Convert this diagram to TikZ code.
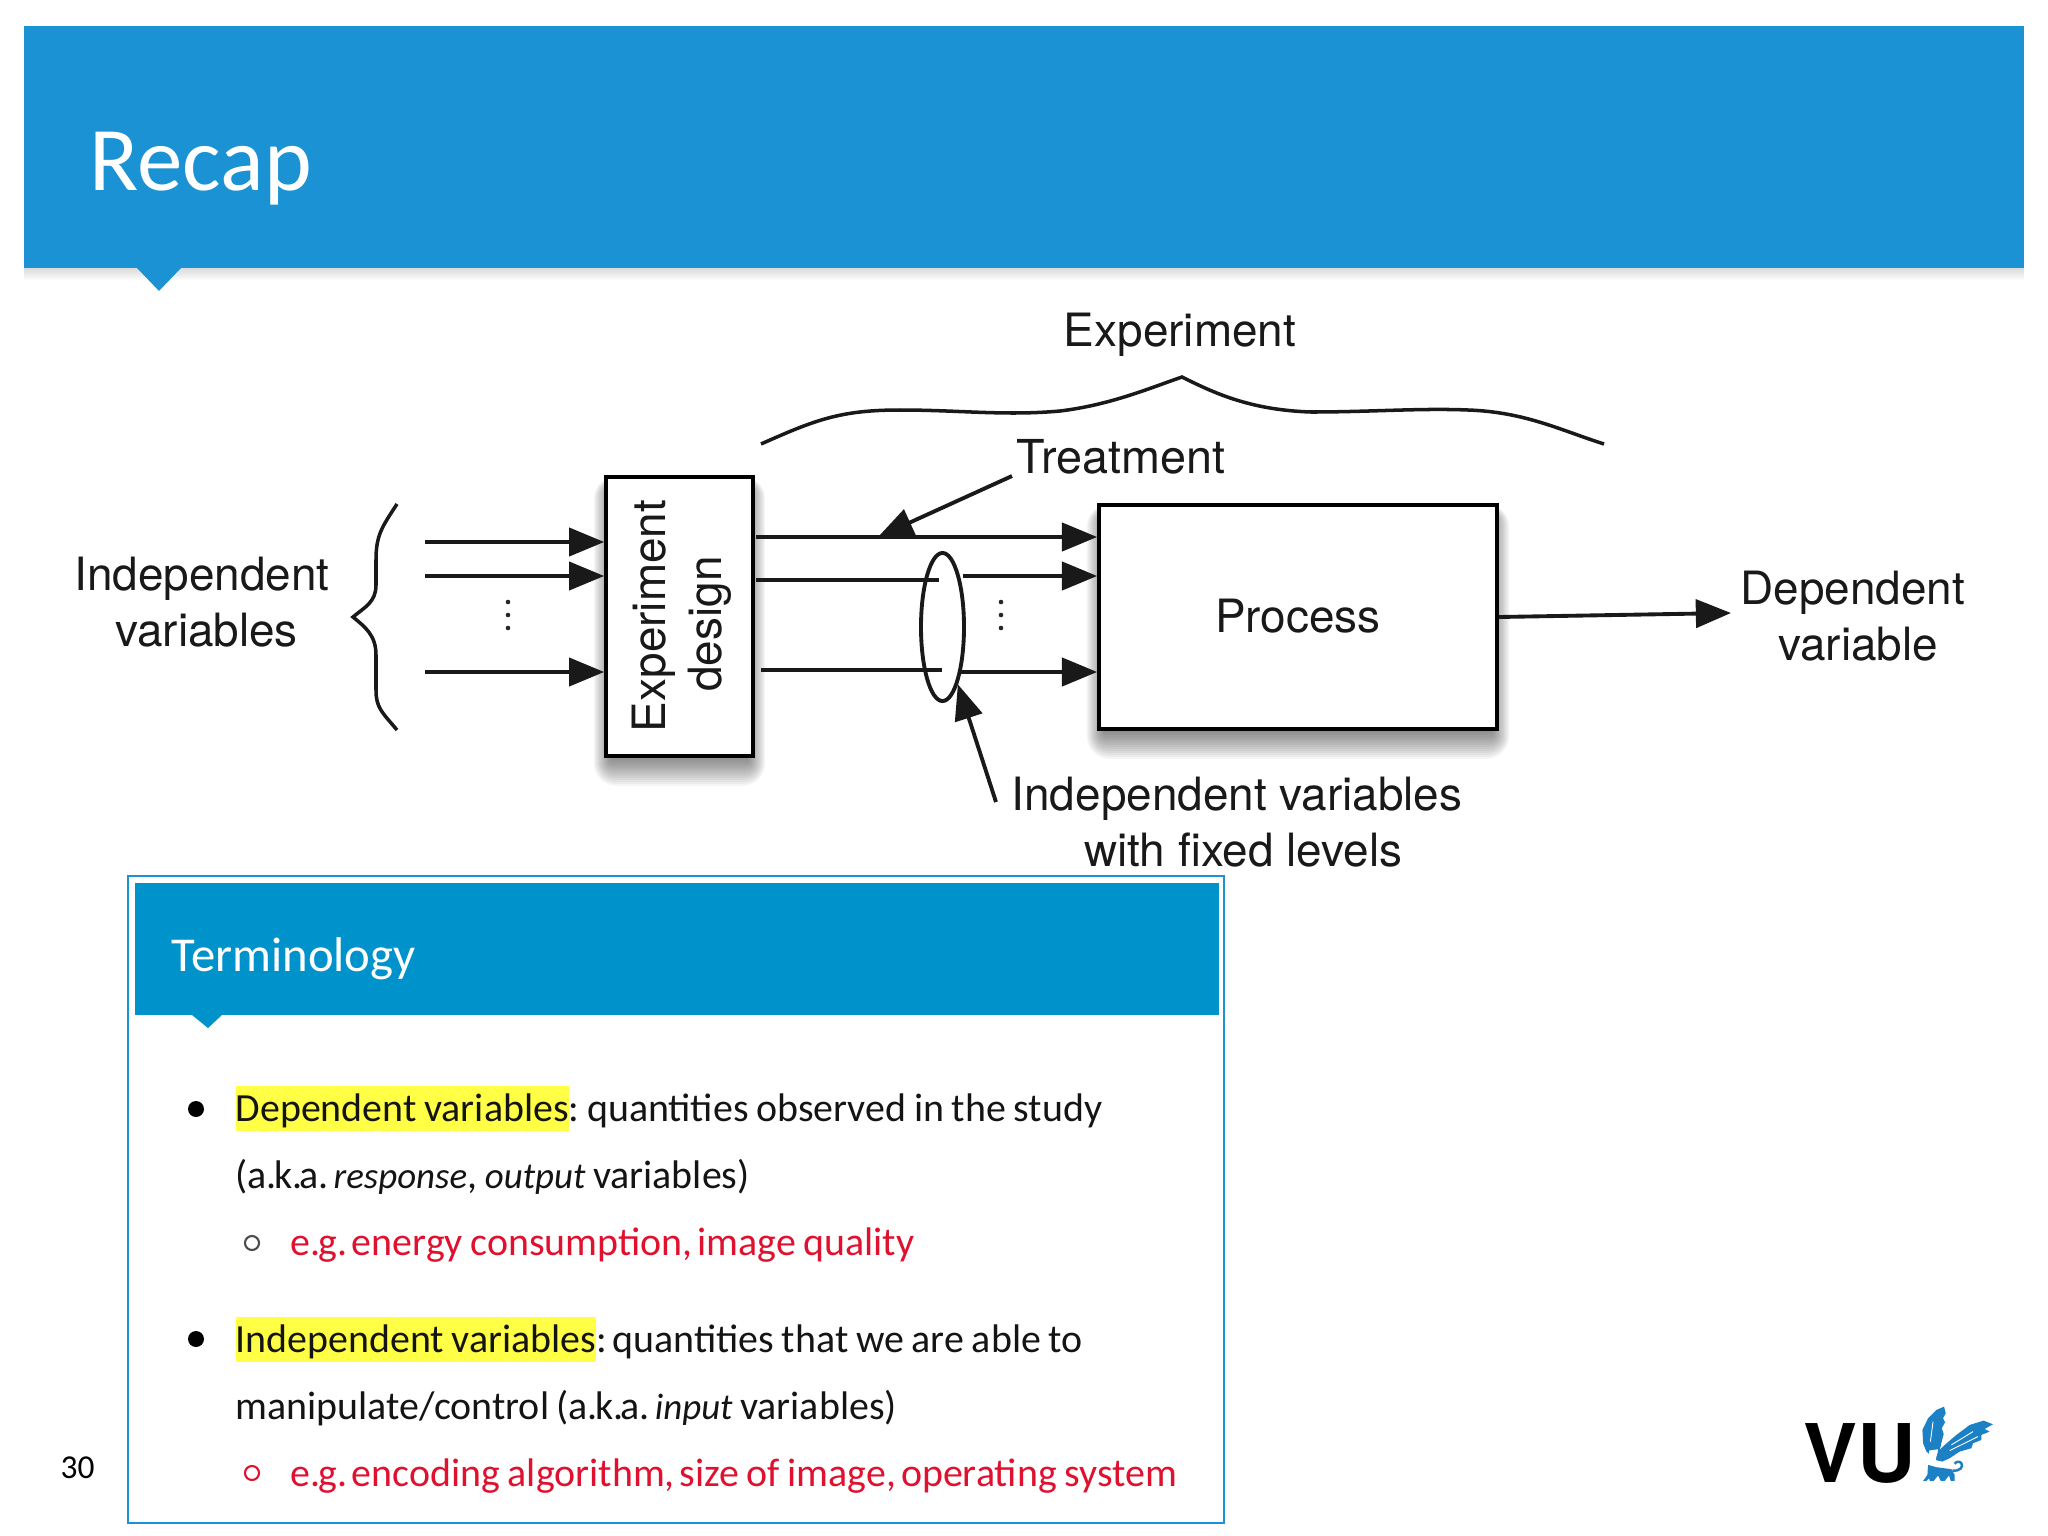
\documentclass[tikz,border=0pt]{standalone}
\usepackage{fontspec}
\setmainfont[WordSpace=0.85]{Carlito}
\newfontfamily\figfont{TeX Gyre Heros}
\usetikzlibrary{arrows.meta,shapes.geometric,calc,backgrounds}

\definecolor{slideblue}{HTML}{1A92D3}
\definecolor{termblue}{HTML}{0093CB}
\definecolor{logoblue}{HTML}{1B80C4}
\definecolor{hlyellow}{HTML}{FFFF45}
\definecolor{termred}{HTML}{E0102F}

\newcommand{\hlterm}[1]{{\setlength{\fboxsep}{0pt}\colorbox{hlyellow}{\rule[-2.85pt]{0pt}{12.8pt}#1}}}
\newcommand{\emterm}[1]{{\itshape\fontsize{10.5}{13}\selectfont #1}}
\newcommand{\akaword}{a.\kern-.8pt k.\kern-.8pt a.\kern-.8pt}
\newcommand{\egword}{e.\kern-.7pt g.\kern-.8pt}
\newcommand{\boxshadow}[1]{%
  \foreach \i in {0,...,13}
    \fill[black, opacity=.04, rounded corners={\i*0.5pt}] ($(#1.north west)+({(5-\i)*1.3},{14-\i})$) rectangle ($(#1.south east)+({(\i-5)*1.3},{2+\i*2})$);
}

\tikzset{
  blockbox/.style={draw=black, fill=white, line width=1pt, inner sep=0pt},
  flow/.style={-{Triangle[length=10pt,width=8pt]}, line width=1.1pt, black!90},
  plainline/.style={line width=1.1pt, black!90},
  figtext/.style={font=\figfont\fontsize{13.05}{15.9}\selectfont, text=black!90, align=center, inner sep=0pt},
  bodytext/.style={font=\frenchspacing\fontsize{11.35}{13}\selectfont, anchor=base west, inner sep=0pt, text=black!92},
  redtext/.style={bodytext, text=termred},
  dotmark/.style={black!85},
}

\begin{document}
\begin{tikzpicture}[x=0.01cm, y=-0.01cm]
  \useasboundingbox (0,0) rectangle (2048,1536);

  % --- 1. slide header ---
  \foreach \i in {1,...,6}
    \fill[black, opacity=.022] (24,268) rectangle (2024,{268+\i*2});
  \fill[slideblue] (24,26) rectangle (2024,268);
  \fill[slideblue] (137,268) -- (181,268) -- (159,291) -- cycle;
  \node[anchor=base west, inner sep=0pt, text=white, font=\fontsize{25.85}{28}\selectfont] (title) at (89,190) {Recap};

  % --- 2. experiment figure: boxes ---
  \node[blockbox, minimum width=1.47cm, minimum height=2.79cm] (design) at (679.5,616.5) {};
  \node[blockbox, minimum width=3.98cm, minimum height=2.24cm] (process) at (1298,617) {};
  \begin{scope}[on background layer]
    \boxshadow{design}
    \boxshadow{process}
  \end{scope}
  \node[figtext, rotate=90] (designtext) at (682,616) {Experiment\\design\hspace*{4.5pt}};
  \node[figtext] (processtext) at (1298,616) {Process};

  % --- 3. labels ---
  \node[figtext] (indep) at (202,602) {Independent\\\hspace*{2.6pt}variables};
  \node[figtext] (dep) at (1853,616) {Dependent\\\hspace*{3pt}variable};
  \node[figtext, anchor=base] (experiment) at (1180,346) {Experiment};
  \node[figtext, anchor=base west, font=\figfont\fontsize{13.3}{15.9}\selectfont] (treatment) at (1016,473) {Treatment};
  \node[figtext] (fixed) at (1237,822) {Independent variables\\\hspace*{3.5pt}with fixed levels};

  % --- 4. arrows into the experiment design ---
  \coordinate (inA) at (425,542);
  \coordinate (inB) at (425,576);
  \coordinate (inC) at (425,672);
  \draw[flow] (inA) -- (inA -| design.west);
  \draw[flow] (inB) -- (inB -| design.west);
  \draw[flow] (inC) -- (inC -| design.west);
  \foreach \y in {602,615,628}
    \fill[dotmark] (508,\y) circle (2.3);

  % --- 5. arrows into the process, ellipse round the fixed levels ---
  \node[draw=black!90, line width=1.1pt, ellipse, minimum width=0.43cm, minimum height=1.48cm, inner sep=0pt] (spot) at (942.5,627) {};
  \coordinate (outA) at (756,537);
  \coordinate (outB) at (756,580);
  \coordinate (outC) at (761,670);
  \coordinate (stopB) at (939,580);
  \coordinate (stopC) at (942,670);
  \coordinate (backB) at (963,576);
  \coordinate (backC) at (959,672);
  \draw[flow] (outA) -- (outA -| process.west);
  \draw[plainline] (outB) -- (stopB);
  \draw[plainline] (outC) -- (stopC);
  \draw[flow] (backB) -- (backB -| process.west);
  \draw[flow] (backC) -- (backC -| process.west);
  \foreach \y in {602,615,628}
    \fill[dotmark] (1001,\y) circle (2.3);

  % --- 6. pointers and output ---
  \coordinate (treatstart) at (1012,476);
  \coordinate (treattip) at (878,537);
  \coordinate (fixedstart) at (996,802);
  \coordinate (outend) at (1731,613);
  \draw[flow] (treatstart) -- (treattip);
  \draw[flow] (fixedstart) -- (spot.-75);
  \draw[flow] (process.east) -- (outend);

  % --- 7. curly braces ---
  \draw[line width=1pt, black!90] (397,504) .. controls (382,527) and (376,535) .. (376,560)
    -- (376,585) .. controls (376,602) and (365,607) .. (353,617)
    .. controls (365,627) and (376,635) .. (376,655)
    -- (376,690) .. controls (376,708) and (382,712) .. (397,730);
  \draw[line width=1pt, black!90] (761,444) .. controls (815,420) and (840,410) .. (900,410)
    .. controls (960,410) and (1005,416) .. (1060,411)
    .. controls (1110,405) and (1150,388) .. (1182,377)
    .. controls (1214,393) and (1250,410) .. (1311,412)
    .. controls (1370,412) and (1420,408) .. (1468,410)
    .. controls (1525,412) and (1560,430) .. (1604,444);

  % --- 8. terminology panel ---
  \draw[slideblue, line width=0.8pt] (128,876) rectangle (1224,1523);
  \fill[termblue] (135,883) rectangle (1219,1015);
  \fill[termblue] (192,1015) -- (222,1015) -- (208,1028) -- cycle;
  \node[anchor=base west, inner sep=0pt, text=white, font=\fontsize{13.85}{16}\selectfont] (termtitle) at (171,971) {Terminology};

  \fill[black] (196,1109) circle (8);
  \node[bodytext] (depline) at (235,1121) {\hlterm{Dependent variables}: quantities observed in the study};
  \node[bodytext] (depaka) at (235,1188) {(\akaword{} \emterm{response}, \emterm{output} variables)};
  \draw[black!70, line width=0.6pt] (252,1243) circle (7);
  \node[redtext] (depeg) at (290,1255) {\egword{} energy consumption,\kern-.8pt{} image quality};

  \fill[black] (196,1339) circle (8);
  \node[bodytext] (indline) at (235,1352) {\hlterm{Independent variables}:\kern-.5pt{} quantities that we are able to};
  \node[bodytext] (indaka) at (235,1419) {manipulate/control (\akaword{} \emterm{input} variables)};
  \draw[termred, line width=0.6pt] (252,1473) circle (7);
  \node[redtext] (indeg) at (290,1486) {\egword{} encoding algorithm,\kern-.8pt{} size of image,\kern-.8pt{} operating system};

  % --- 9. page number and logo ---
  \node[anchor=base west, inner sep=0pt, font=\fontsize{9.5}{11}\selectfont] (pagenum) at (60,1478) {30};
  \node[anchor=base west, inner sep=0pt, font=\figfont\bfseries\fontsize{23}{24}\selectfont] (vu) at (1803,1482) {VU};
  \begin{scope}[shift={(1760,1380)}, x=0.00333cm, y=-0.00333cm]
    \fill[logoblue] (553,80) -- (558,100) -- (550,115) -- (556,127) -- (546,145) -- (552,162) -- (546,185) -- (540,212)
      -- (512,225) -- (500,215) -- (490,190) -- (488,150) -- (505,115) -- (530,90) -- cycle;
    \fill[logoblue] (700,133) -- (672,122) -- (630,135) -- (590,165) -- (555,195) -- (535,215)
      -- (525,240) -- (548,245) -- (570,235) -- (600,215) -- (635,205) -- (640,190) -- (665,180) -- (665,165) -- (690,155) -- (675,147) -- cycle;
    \draw[white, line width=0.25pt] (512,185) -- (520,125);
    \draw[white, line width=0.25pt] (575,195) -- (640,155);
    \draw[white, line width=0.25pt] (570,212) -- (655,170);
    \fill[white] (508,212) -- (535,208) -- (528,240) -- (510,250) -- cycle;
    \fill[logoblue] (490,303) -- (503,285) -- (505,255) -- (530,262) -- (575,268) -- (585,285) -- (585,303) -- (573,303) -- (568,287) -- (555,303) -- (543,303) -- (535,287) -- (522,303) -- (510,303) -- (508,295) -- (500,303) -- cycle;
    \draw[logoblue, line width=0.7pt] (578,272) .. controls (600,275) and (612,262) .. (605,250) .. controls (600,243) and (588,245) .. (585,252);
  \end{scope}
\end{tikzpicture}
\end{document}
